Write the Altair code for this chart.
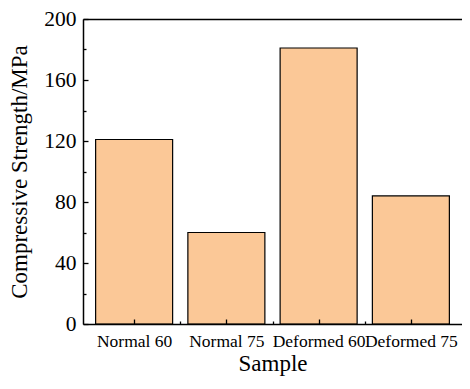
import altair as alt
import pandas as pd

samples = ["Normal 60", "Normal 75", "Deformed 60", "Deformed 75"]
strength = [121, 60, 181, 84]
y_ticks = [0, 20, 40, 60, 80, 100, 120, 140, 160, 180, 200]
x_ticks = [1, 1.5, 2, 2.5, 3, 3.5, 4]

df = pd.DataFrame({"idx": list(range(1, len(samples) + 1)), "sample": samples, "strength": strength})

names_js = "[" + ",".join("'" + s + "'" for s in samples) + "]"
FONT = "'Liberation Serif', 'Times New Roman', Times, serif"

W, H = 379, 305

xscale = alt.Scale(domain=[0.5, 4.5], nice=False, zero=False)
yscale = alt.Scale(domain=[0, 200], nice=False)

bars = alt.Chart(df).mark_bar(size=77, color="#FBC897", stroke="black", strokeWidth=1.2).encode(
    x=alt.X("idx:Q", scale=xscale,
            axis=alt.Axis(orient="bottom", values=x_ticks, ticks=False, grid=False,
                          labelExpr="datum.value % 1 === 0 ? " + names_js + "[datum.value - 1] : ''",
                          labelOverlap=False, labelBound=False, labelFlush=False,
                          title="Sample", titleFontSize=23, titleFontWeight="normal",
                          labelFontSize=17.5, labelPadding=8, titlePadding=3,
                          domainColor="black", domainWidth=1.5, labelColor="black",
                          titleColor="black", labelFont=FONT, titleFont=FONT, zindex=1)),
    y=alt.Y("strength:Q", scale=yscale,
            axis=alt.Axis(orient="left", values=y_ticks, ticks=False, grid=False,
                          labelExpr="datum.value % 40 === 0 ? datum.label : ''",
                          labelOverlap=False, labelFlush=False,
                          title="Compressive Strength/MPa", titleFontSize=23, titleFontWeight="normal",
                          labelFontSize=21.5, labelPadding=7, titlePadding=12,
                          domainColor="black", domainWidth=1.5, labelColor="black",
                          titleColor="black", labelFont=FONT, titleFont=FONT, zindex=1)),
)

ticks_layer = alt.Chart(df).mark_bar(size=77, opacity=0).encode(
    x=alt.X("idx:Q", scale=xscale,
            axis=alt.Axis(orient="top", offset=-H, values=x_ticks, labels=False, domain=False,
                          title=None, grid=False, tickColor="black", tickWidth=1.3,
                          tickSize={"condition": {"test": "datum.value % 1 === 0", "value": 5}, "value": 3},
                          zindex=2)),
    y=alt.Y("strength:Q", scale=yscale,
            axis=alt.Axis(orient="right", offset=-W, values=y_ticks, labels=False, domain=False,
                          title=None, grid=False, tickColor="black", tickWidth=1.3,
                          tickSize={"condition": {"test": "datum.value % 40 === 0", "value": 5}, "value": 3},
                          zindex=2)),
)

top_line = alt.Chart(df).mark_bar(size=77, opacity=0).encode(
    x=alt.X("idx:Q", scale=xscale,
            axis=alt.Axis(orient="top", labels=False, ticks=False, grid=False, title=None,
                          domainColor="black", domainWidth=1.5, zindex=2)),
    y=alt.Y("strength:Q", scale=yscale, axis=None),
)

chart = alt.layer(bars, ticks_layer, top_line).resolve_axis(x="independent", y="independent").properties(
    width=W, height=H,
    autosize=alt.AutoSizeParams(type="none"),
    padding={"left": 75, "top": 11, "right": 0, "bottom": 53},
).configure_view(stroke=None).configure(background="white", font=FONT)

chart.save("out.html", embed_options={"renderer": "svg", "actions": False})
